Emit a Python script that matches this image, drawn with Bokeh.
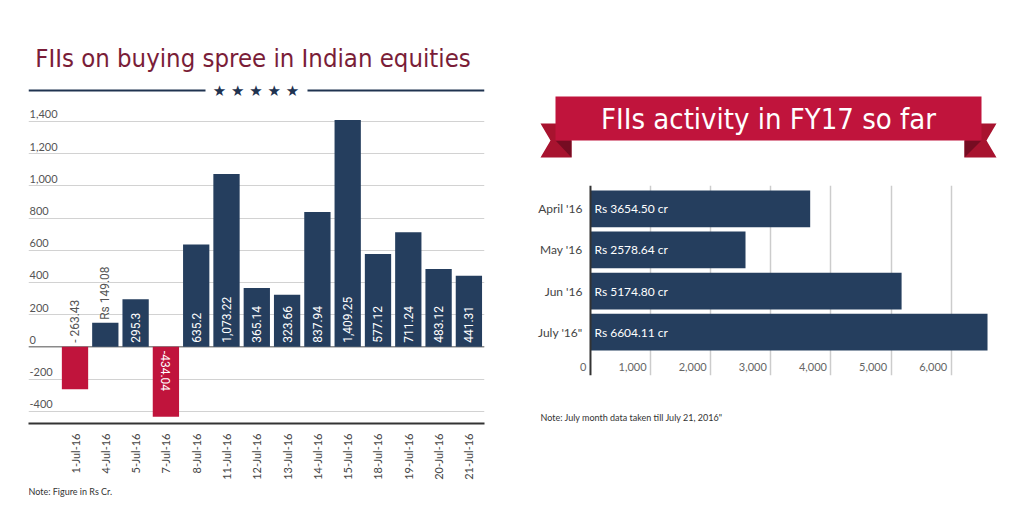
import math
from bokeh.plotting import figure
from bokeh.layouts import row, column
from bokeh.models import Range1d, FixedTicker, Span, ColumnDataSource, Grid
from bokeh.core.properties import value
from bokeh.embed import file_html
from bokeh.resources import INLINE

# ---------------- data ----------------
dates = ["1-Jul-16", "4-Jul-16", "5-Jul-16", "7-Jul-16", "8-Jul-16", "11-Jul-16", "12-Jul-16",
         "13-Jul-16", "14-Jul-16", "15-Jul-16", "18-Jul-16", "19-Jul-16", "20-Jul-16", "21-Jul-16"]
flows = [-263.43, 149.08, 295.3, -434.04, 635.2, 1073.22, 365.14,
         323.66, 837.94, 1409.25, 577.12, 711.24, 483.12, 441.31]
flow_labels = ["- 263.43", "Rs 149.08", "295.3", "-434.04", "635.2", "1,073.22", "365.14",
               "323.66", "837.94", "1,409.25", "577.12", "711.24", "483.12", "441.31"]
flow_ticks = [-400, -200, 0, 200, 400, 600, 800, 1000, 1200, 1400]
flow_tick_labels = ["-400", "-200", "0", "200", "400", "600", "800", "1,000", "1,200", "1,400"]

months = ["April '16", "May '16", "Jun '16", "July '16\""]
activity = [3654.50, 2578.64, 5174.80, 6604.11]
activity_labels = ["Rs 3654.50 cr", "Rs 2578.64 cr", "Rs 5174.80 cr", "Rs 6604.11 cr"]
act_ticks = [0, 1000, 2000, 3000, 4000, 5000, 6000]
act_tick_labels = ["0", "1,000", "2,000", "3,000", "4,000", "5,000", "6,000"]

title_left = "FIIs on buying spree in Indian equities"
title_right = "FIIs activity in FY17 so far"
note_left = "Note: Figure in Rs Cr."
note_right = "Note: July month data taken till July 21, 2016\""

NAVY = "#253e5e"
RED = "#c0143c"
MAROON = "#7a1d38"
NARROW = value("DejaVu Sans Condensed, Roboto")
ROBOTO = value("Roboto")
LATO = value("Lato")


def canvas(w, h, x0, x1, y0, y1, bl, br):
    """A blank figure whose coordinates are page pixels (x0..x1 across the frame, y0 top..y1 bottom)."""
    p = figure(width=w, height=h, x_range=Range1d(x0, x1), y_range=Range1d(y1, y0),
               x_axis_type=None, y_axis_type=None, tools="", toolbar_location=None,
               output_backend="svg", min_border_left=bl, min_border_right=br,
               min_border_top=0, min_border_bottom=0)
    p.outline_line_color = None
    return p


# ======================= LEFT COLUMN (page x 0..520) =======================
LB, RB = 28, 36   # frame spans page x 28..484

t1 = canvas(520, 108, 28, 484, 0, 108, LB, RB)
t1.text(x=[252.5], y=[57], text=[title_left], text_align="center", text_baseline="middle",
        text_font=NARROW, text_font_size="25.5px", text_color=MAROON)
t1.segment(x0=[28, 307], y0=[90, 90], x1=[205, 484], y1=[90, 90], line_color="#1f3350", line_width=2)
t1.text(x=[255.5], y=[90], text=["\u2605 \u2605 \u2605 \u2605 \u2605"], text_align="center",
        text_baseline="middle", text_font=value("DejaVu Sans"), text_font_size="15px",
        text_color="#1f3350")

idx = list(range(len(dates)))
c1 = figure(width=520, height=375, x_range=Range1d(-1.535, 13.515), y_range=Range1d(-476, 1474),
            y_axis_type=None, tools="", toolbar_location=None, output_backend="svg",
            min_border_left=LB, min_border_right=RB, min_border_top=1, min_border_bottom=60)
c1.outline_line_color = None
c1.xgrid.visible = False
c1.add_layout(Grid(dimension=1, ticker=FixedTicker(ticks=flow_ticks),
                   grid_line_color="#d2d2d2", grid_line_width=1))
c1.add_layout(Span(location=0, dimension="width", line_color="#8a8a8a", line_width=1.5, level="underlay"))

ax = c1.xaxis[0]
ax.ticker = FixedTicker(ticks=idx)
ax.major_label_overrides = {i: d for i, d in enumerate(dates)}
ax.major_label_orientation = math.pi / 2
ax.major_tick_line_color = None
ax.minor_tick_line_color = None
ax.axis_line_color = "#333333"
ax.axis_line_width = 2
ax.major_label_standoff = 4
ax.major_label_text_font = "Lato"
ax.major_label_text_font_size = "11px"
ax.major_label_text_color = "#444444"

bar_src = ColumnDataSource(dict(x=idx, top=flows,
                                color=[NAVY if v >= 0 else RED for v in flows]))
c1.vbar(x="x", top="top", bottom=0, width=0.868, fill_color="color", line_color=None, source=bar_src)

inside = [abs(v) > 290 for v in flows]
lab_src = ColumnDataSource(dict(
    x=idx,
    y=[0 if ins else max(v, 0) for v, ins in zip(flows, inside)],
    text=flow_labels,
    angle=[-math.pi / 2 if (ins and v < 0) else math.pi / 2 for v, ins in zip(flows, inside)],
    yoff=[4 if (ins and v < 0) else (-4 if ins or v < 0 else -3) for v, ins in zip(flows, inside)],
    color=["white" if ins else "#555555" for ins in inside],
))
c1.text(x="x", y="y", text="text", angle="angle", y_offset="yoff", text_color="color",
        text_align="left", text_baseline="middle", text_font=ROBOTO, text_font_size="12px",
        source=lab_src)

c1.text(x=[c1.x_range.start] * len(flow_ticks), y=flow_ticks, text=flow_tick_labels,
        x_offset=1, y_offset=-3, text_align="left", text_baseline="bottom",
        text_font=LATO, text_font_size="11px", text_color="#555555")

n1 = canvas(520, 31, 28, 484, 483, 514, LB, RB)
n1.text(x=[28], y=[491], text=[note_left], text_align="left", text_baseline="middle",
        text_font=LATO, text_font_size="9px", text_color="#333333")

# ======================= RIGHT COLUMN (page x 520..1024) =======================
RLB, RRB = 8, 24   # frame spans page x 528..1000

t2 = canvas(504, 178, 528, 1000, 0, 178, RLB, RRB)
t2.patches(xs=[[540, 571, 571, 540, 550], [964, 996, 986, 996, 964]],
           ys=[[123, 123, 157, 157, 140], [123, 123, 140, 157, 157]],
           fill_color="#a8132f", line_color=None)
t2.patches(xs=[[555, 571, 571], [964, 981, 964]], ys=[[140, 140, 157], [140, 140, 157]],
           fill_color="#760c22", line_color=None)
t2.quad(left=[555], right=[981], top=[96], bottom=[140], fill_color=RED, line_color=None)
t2.text(x=[768], y=[118], text=[title_right], text_align="center", text_baseline="middle",
        text_font=NARROW, text_font_size="29px", text_color="white")

midx = list(range(len(months)))
c2 = figure(width=504, height=210, x_range=Range1d(-1031, 6820), y_range=Range1d(4.053, -0.567),
            x_axis_type=None, y_axis_type=None, tools="", toolbar_location=None, output_backend="svg",
            min_border_left=RLB, min_border_right=RRB, min_border_top=7, min_border_bottom=13)
c2.outline_line_color = None
c2.add_layout(Grid(dimension=0, ticker=FixedTicker(ticks=act_ticks[1:]),
                   grid_line_color="#cccccc", grid_line_width=1.5))
c2.add_layout(Span(location=0, dimension="height", line_color="#333333", line_width=2))

c2.hbar(y=midx, left=0, right=activity, height=0.893, fill_color=NAVY, line_color=None)
c2.text(x=[0] * len(midx), y=midx, text=activity_labels, x_offset=4, text_align="left",
        text_baseline="middle", text_font=LATO, text_font_size="12px", text_color="white")
c2.text(x=[0] * len(midx), y=midx, text=months, x_offset=-8, text_align="right",
        text_baseline="middle", text_font=LATO, text_font_size="12px", text_color="#444444")
c2.text(x=act_ticks, y=[c2.y_range.start] * len(act_ticks), text=act_tick_labels,
        x_offset=-4, y_offset=-9, text_align="right", text_baseline="middle",
        text_font=LATO, text_font_size="11px", text_color="#666666")

n2 = canvas(504, 126, 528, 1000, 388, 514, RLB, RRB)
n2.text(x=[540], y=[417], text=[note_right], text_align="left", text_baseline="middle",
        text_font=LATO, text_font_size="9px", text_color="#333333")

layout = row(column(t1, c1, n1), column(t2, c2, n2))
open("out.html", "w").write(file_html(layout, INLINE))
